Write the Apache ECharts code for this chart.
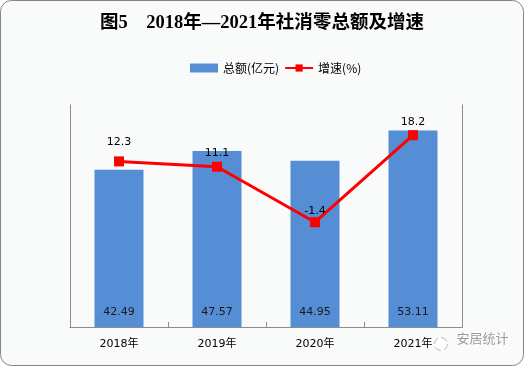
<!DOCTYPE html>
<html><head><meta charset="utf-8">
<style>html,body{margin:0;padding:0;background:#fff}#c{width:525px;height:367px}</style>
<script src="https://cdn.jsdelivr.net/npm/echarts@6/dist/echarts.min.js"></script>
</head><body><div id="c"></div>
<script>
const categories = ['2018年','2019年','2020年','2021年'];
const totals = [42.49,47.57,44.95,53.11];
const growth = [12.3,11.1,-1.4,18.2];
const titleText = '图5\u30002018年—2021年社消零总额及增速';
const sans = '"DejaVu Sans","Noto Sans CJK SC",sans-serif';
const labelGaps = [9,3,1,3];
const chart = echarts.init(document.getElementById('c'), null, {renderer:'canvas'});
chart.setOption({
  animation:false,
  backgroundColor:'#fff',
  title:{text:titleText,left:257,top:9,textAlign:'center',
    textStyle:{fontFamily:'"Liberation Serif","Noto Sans CJK SC",serif',fontWeight:'bold',fontSize:18.5,color:'#000'}},
  legend:{top:57,left:185,itemGap:5,itemWidth:28,itemHeight:9,
    textStyle:{fontFamily:'"Noto Sans CJK SC",sans-serif',fontSize:12,color:'#000'},
    data:[{name:'总额(亿元)',icon:'rect'},{name:'增速(%)'}]},
  grid:{left:70,right:63,top:105,bottom:40},
  xAxis:{type:'category',data:categories,
    axisLine:{lineStyle:{color:'#8c8c8c',width:1}},
    axisTick:{show:true,inside:true,length:5,lineStyle:{color:'#8c8c8c'}},
    axisLabel:{fontFamily:sans,fontSize:11,color:'#000',margin:12}},
  yAxis:[
    {type:'value',min:0,max:60,interval:10,axisLabel:{show:false},axisTick:{show:false},splitLine:{show:false},
     axisLine:{show:true,lineStyle:{color:'#8c8c8c'}}},
    {type:'value',min:-25,max:25,interval:5,position:'right',axisLabel:{show:false},axisTick:{show:false},splitLine:{show:false},
     axisLine:{show:true,lineStyle:{color:'#8c8c8c'}}}
  ],
  series:[
    {name:'总额(亿元)',type:'bar',data:totals,barWidth:'50%',itemStyle:{color:'#558ed5'},
     label:{show:true,position:'insideBottom',distance:9,fontFamily:sans,fontSize:11,color:'#1a1a1a',formatter:p=>p.value.toFixed(2)}},
    {name:'增速(%)',type:'line',yAxisIndex:1,
     data:growth.map((v,i)=>({value:v,label:{distance:labelGaps[i]}})),
     symbol:'rect',symbolSize:10,
     lineStyle:{color:'#ff0000',width:3},itemStyle:{color:'#ff0000'},z:5,
     label:{show:true,position:'top',fontFamily:sans,fontSize:11,color:'#000'}}
  ],
  graphic:[
    {type:'rect',z:-10,silent:true,shape:{x:0.5,y:0.5,width:523,height:365,r:11},
     style:{fill:'#f9fbfb',stroke:'#858585',lineWidth:1}},
    {type:'text',z:50,silent:true,left:456,top:331,
     style:{text:'安居统计',fill:'#9a9a9a',stroke:'#ffffff',lineWidth:1,font:'13px "Noto Sans CJK SC",sans-serif'}},
    {type:'circle',z:50,silent:true,shape:{cx:441,cy:344,r:6.5},
     style:{fill:'#ffffff',stroke:'#b8b8b8',lineWidth:1,lineDash:[7,3],shadowBlur:3,shadowColor:'#ffffff'}}
  ]
});
</script></body></html>
